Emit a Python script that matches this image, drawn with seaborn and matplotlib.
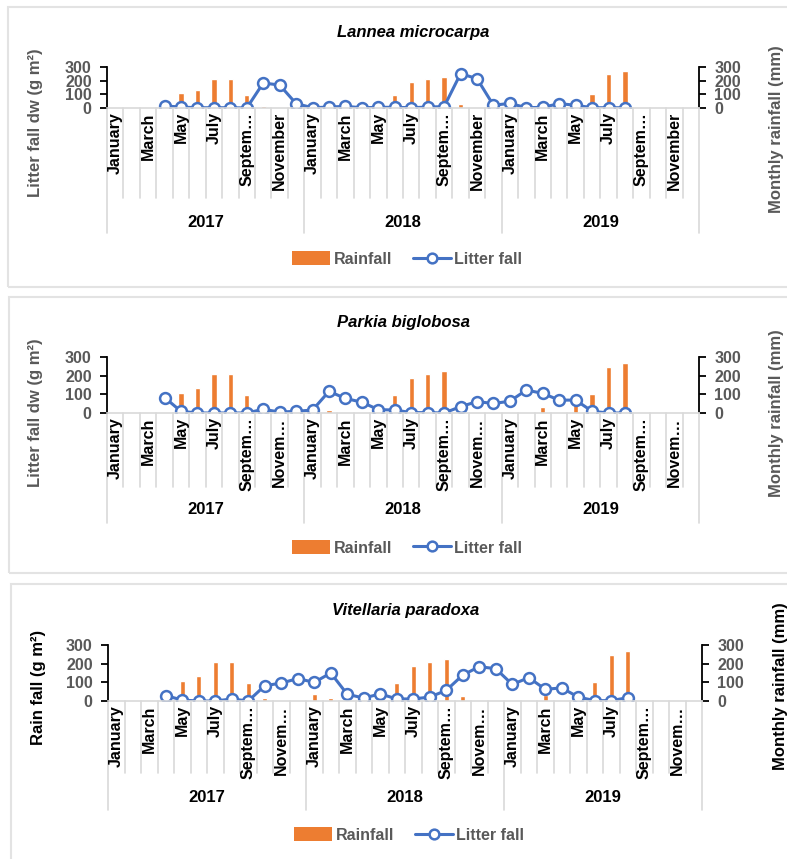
import numpy as np
import pandas as pd
import seaborn as sns
import matplotlib.pyplot as plt
from matplotlib.lines import Line2D
from matplotlib.patches import Patch, Rectangle

# ---------------------------------------------------------------- data
years = ["2017", "2018", "2019"]
month_names = ["January", "February", "March", "April", "May", "June", "July",
               "August", "September", "October", "November", "December"]

# monthly rainfall (mm), Jan 2017 - Dec 2019
rain_2017 = [0, 0, 5, 0, 107, 133, 211, 211, 98, 17, 0, 0]
rain_2018 = [38, 14, 0, 0, 5, 98, 190, 210, 225, 26, 0, 0]
rain_2019 = [0, 0, 31, 3, 57, 102, 248, 268, 0, 0, 0, 0]

# monthly litter fall (g m-2), Apr 2017 - Aug 2019 (NaN = not sampled)
nan = np.nan
lannea_2017 = [nan, nan, nan, 15, 7, 2, 2, 2, 0, 183, 168, 32]
lannea_2018 = [2, 7, 12, 2, 5, 5, 2, 7, 10, 251, 215, 20]
lannea_2019 = [34, 2, 5, 32, 20, 2, 2, 2, nan, nan, nan, nan]

parkia_2017 = [nan, nan, nan, 83, 9, 0, 0, 0, 0, 20, 5, 9]
parkia_2018 = [16, 116, 78, 58, 18, 16, 2, 2, 0, 34, 61, 51]
parkia_2019 = [63, 123, 105, 69, 69, 9, 0, 0, nan, nan, nan, nan]

vitellaria_2017 = [nan, nan, nan, 29, 5, 0, 0, 11, 0, 82, 96, 120]
vitellaria_2018 = [100, 150, 36, 16, 38, 11, 11, 21, 57, 139, 184, 173]
vitellaria_2019 = [89, 125, 63, 70, 21, 2, 2, 18, nan, nan, nan, nan]

species = ["Lannea microcarpa", "Parkia biglobosa", "Vitellaria paradoxa"]
left_labels = ["Litter fall dw (g m²)", "Litter fall dw (g m²)", "Rain fall (g m²)"]
right_label = "Monthly rainfall (mm)"
y_ticks = [0, 100, 200, 300]

# shown month tick text per panel (odd months only)
tick_text_full = ["January", "March", "May", "July", "Septem…", "November"]
tick_text_short = ["January", "March", "May", "July", "Septem…", "Novem…"]

# ---------------------------------------------------------------- style
ORANGE = "#ED7D31"
BLUE = "#4472C4"
GREY = "#595959"
LIGHT = "#D9D9D9"

sns.set_theme(style="white")
plt.rcParams["font.family"] = ["Liberation Sans", "DejaVu Sans"]
plt.rcParams["font.weight"] = "bold"

W, H = 787, 859
fig = plt.figure(figsize=(W / 100, H / 100), dpi=100)

rain = rain_2017 + rain_2018 + rain_2019
litter_sets = [lannea_2017 + lannea_2018 + lannea_2019,
               parkia_2017 + parkia_2018 + parkia_2019,
               vitellaria_2017 + vitellaria_2018 + vitellaria_2019]

# pixel layout of each panel
panels = [
    dict(box=(8, 7, 800, 287), ax=(107, 67, 699, 108), title_y=32, title_dx=10,
         mdepth=90, ydepth=125, year_y=222, legend_y=259, ylab=(36, 123),
         rlab=(777, 129), lab_color=GREY, ticks=tick_text_full),
    dict(box=(9, 297, 800, 573), ax=(107, 357, 699, 413), title_y=322, title_dx=1,
         mdepth=74, ydepth=110, year_y=510, legend_y=548, ylab=(36, 413),
         rlab=(777, 413), lab_color=GREY, ticks=tick_text_short),
    dict(box=(11, 584, 800, 880), ax=(108, 645, 702, 701), title_y=610, title_dx=1,
         mdepth=72, ydepth=109, year_y=798, legend_y=835, ylab=(38, 687),
         rlab=(780, 686), lab_color="black", ticks=tick_text_short),
]

idx = np.arange(36)
rain_df = pd.DataFrame({"month": idx, "rain": rain})

for p, name, lab, litter in zip(panels, species, left_labels, litter_sets):
    x0, y0, x1, y1 = p["ax"]
    ax_h = y1 - y0
    ax = fig.add_axes([x0 / W, 1 - y1 / H, (x1 - x0) / W, ax_h / H])
    ax_r = ax.twinx()

    # rainfall bars on the right axis
    sns.barplot(data=rain_df, x="month", y="rain", ax=ax_r, color=ORANGE,
                width=0.32, saturation=1, order=list(idx))

    # litter fall on the left axis, drawn above the bars
    lit_df = pd.DataFrame({"month": idx, "litter": litter}).dropna()
    sns.lineplot(data=lit_df, x="month", y="litter", ax=ax, color=BLUE,
                 linewidth=2.2, marker="o", markersize=7.8,
                 markerfacecolor="white", markeredgecolor=BLUE,
                 markeredgewidth=1.8)
    ax.set_zorder(ax_r.get_zorder() + 1)
    ax.patch.set_visible(False)

    for a in (ax, ax_r):
        a.set_ylim(0, 300)
        a.set_yticks(y_ticks)
        a.set_xlim(-0.5, 35.5)
        a.set_xlabel("")
        a.set_ylabel("")
        for s in a.spines.values():
            s.set_visible(False)
        a.tick_params(axis="y", direction="out", length=5, width=1.3,
                      color="black", labelcolor=GREY, labelsize=11.5, pad=6)
    ax.spines["left"].set_visible(True)
    ax.spines["left"].set_color("black")
    ax.spines["left"].set_linewidth(1.3)
    ax_r.spines["right"].set_visible(True)
    ax_r.spines["right"].set_color("black")
    ax_r.spines["right"].set_linewidth(1.3)
    ax.spines["bottom"].set_visible(True)
    ax.spines["bottom"].set_color(LIGHT)
    ax.spines["bottom"].set_linewidth(1.2)

    # month tick labels (every other month)
    shown = p["ticks"]
    labels = []
    for i in idx:
        m = i % 12
        labels.append(shown[m // 2] if m % 2 == 0 else "")
    ax.set_xticks(idx)
    ax.set_xticklabels(labels, rotation=90, fontsize=11.5, color="black")
    ax.tick_params(axis="x", length=0, pad=3)

    # category separators below the axis
    tr = ax.get_xaxis_transform()
    for b in range(37):
        depth = p["ydepth"] if b % 12 == 0 else p["mdepth"]
        ax.plot([b - 0.5, b - 0.5], [0, -depth / ax_h], transform=tr,
                color=LIGHT, lw=1.2, clip_on=False, zorder=0)
    for k, yr in enumerate(years):
        ax.text(12 * k + 5.5, -(p["year_y"] - y1) / ax_h, yr, transform=tr,
                ha="center", va="center", fontsize=12, color="black")

    # titles and axis captions
    fig.text(((x0 + x1) / 2 + p["title_dx"]) / W, 1 - p["title_y"] / H, name,
             ha="center", va="center", fontsize=12, style="italic", color="black")
    fig.text(p["ylab"][0] / W, 1 - p["ylab"][1] / H, lab, rotation=90,
             ha="center", va="center", fontsize=12, color=p["lab_color"])
    fig.text(p["rlab"][0] / W, 1 - p["rlab"][1] / H, right_label, rotation=90,
             ha="center", va="center", fontsize=12, color=p["lab_color"])

    handles = [Patch(facecolor=ORANGE, edgecolor="none"),
               Line2D([], [], color=BLUE, lw=2.2, marker="o", markersize=7,
                      markerfacecolor="white", markeredgecolor=BLUE,
                      markeredgewidth=1.8)]
    fig.legend(handles, ["Rainfall", "Litter fall"], loc="center",
               bbox_to_anchor=(((x0 + x1) / 2 + 4) / W, 1 - p["legend_y"] / H),
               ncol=2, frameon=False, fontsize=11.5, labelcolor=GREY,
               handlelength=2.4, handleheight=0.9, handletextpad=0.2,
               columnspacing=1.3)

    bx0, by0, bx1, by1 = p["box"]
    fig.add_artist(Rectangle((bx0 / W, 1 - by1 / H), (bx1 - bx0) / W,
                             (by1 - by0) / H, transform=fig.transFigure,
                             fill=False, edgecolor="#E3E3E3", lw=1.5,
                             clip_on=False))

fig.savefig("out.png", dpi=100, facecolor="white")
